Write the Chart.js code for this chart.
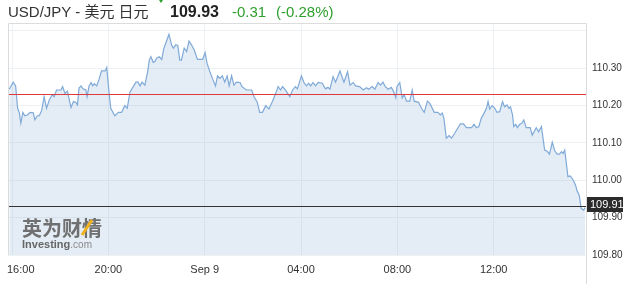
<!DOCTYPE html>
<html>
<head>
<meta charset="utf-8">
<script src="https://cdn.jsdelivr.net/npm/chart.js@4.4.1/dist/chart.umd.min.js"></script>
<style>
  html, body { margin: 0; padding: 0; background: #fff; }
  #wrap { position: relative; width: 629px; height: 284px; overflow: hidden; font-family: "Liberation Sans", Arial, "Noto Sans CJK SC", sans-serif; }
  #chart { position: absolute; left: 0; top: 0; }
  .hd { position: absolute; top: 2px; line-height: 20px; white-space: nowrap; }
  #title { left: 8px; font-size: 15px; color: #333; }
  #arrow { position: absolute; left: 157px; top: -3px; width: 0; height: 0;
           border-left: 4px solid transparent; border-right: 4px solid transparent; border-top: 6px solid #2ea02e; }
  #last { left: 170px; font-size: 16px; font-weight: bold; color: #222; }
  #chg { left: 232px; font-size: 15px; color: #2ea02e; }
  #pct { left: 276px; font-size: 15px; color: #2ea02e; }
</style>
</head>
<body>
<div id="wrap">
  <canvas id="chart" width="629" height="284"></canvas>
  <div class="hd" id="title">USD/JPY - 美元 日元</div>
  <div id="arrow"></div>
  <div class="hd" id="last">109.93</div>
  <div class="hd" id="chg">-0.31</div>
  <div class="hd" id="pct">(-0.28%)</div>
</div>
<script>
// minutes after 16:00 (Sep 8) and USD/JPY price
var minutes = [-7, 3, 9, 14, 18, 22, 27, 32, 38, 45, 53, 57, 63, 68, 74, 80, 86, 93, 100, 105,
  111, 122, 126, 132, 138, 147, 153, 159, 163, 167, 172, 177, 184, 187, 192, 197, 201, 205, 211, 217,
  223, 232, 236, 242, 246, 256, 265, 273, 281, 287, 294, 302, 309, 314, 319, 324, 331, 338, 342, 346,
  352, 356, 360, 367, 373, 378, 385, 391, 398, 402, 408, 413, 418, 422, 429, 435, 441, 447, 454, 462,
  475, 481, 486, 493, 500, 507, 512, 518, 524, 530, 536, 541, 547, 553, 559, 568, 573, 584, 597, 603,
  611, 617, 624, 632, 640, 649, 657, 663, 669, 674, 681, 692, 699, 706, 711, 721, 728, 734, 739, 744,
  750, 756, 763, 773, 781, 787, 792, 800, 806, 817, 827, 836, 842, 850, 856, 866, 875, 883, 889, 897,
  904, 912, 918, 924, 930, 937, 945, 951, 956, 959, 966, 972, 977, 983, 991, 997, 1002, 1013, 1020, 1027,
  1035, 1041, 1052, 1061, 1067, 1072, 1076, 1082, 1089, 1095, 1103, 1111, 1117, 1125, 1132, 1145, 1151, 1157, 1163, 1169,
  1178, 1182, 1186, 1190, 1196, 1203, 1208, 1215, 1222, 1227, 1233, 1238, 1242, 1247, 1250, 1255, 1259, 1265, 1270, 1275,
  1281, 1291, 1296, 1302, 1306, 1312, 1319, 1327, 1334, 1339, 1346, 1352, 1358, 1364, 1369, 1373, 1377, 1385, 1391, 1398,
  1404, 1408, 1413, 1418, 1424, 1428];
var prices = [110.244, 110.263, 110.253, 110.193, 110.182, 110.153, 110.182, 110.173, 110.175, 110.182, 110.181, 110.162, 110.173, 110.173, 110.188, 110.224, 110.193, 110.215, 110.229, 110.224,
  110.242, 110.242, 110.251, 110.233, 110.239, 110.195, 110.211, 110.209, 110.202, 110.247, 110.253, 110.245, 110.242, 110.224, 110.253, 110.262, 110.253, 110.259, 110.253, 110.271,
  110.293, 110.293, 110.302, 110.233, 110.193, 110.173, 110.182, 110.182, 110.200, 110.193, 110.237, 110.251, 110.263, 110.263, 110.253, 110.263, 110.255, 110.291, 110.322, 110.331,
  110.316, 110.318, 110.327, 110.331, 110.324, 110.352, 110.373, 110.391, 110.361, 110.354, 110.363, 110.361, 110.322, 110.322, 110.354, 110.345, 110.373, 110.363, 110.349, 110.324,
  110.324, 110.342, 110.313, 110.291, 110.271, 110.253, 110.280, 110.273, 110.280, 110.263, 110.280, 110.253, 110.280, 110.255, 110.263, 110.262, 110.251, 110.242, 110.242, 110.224,
  110.209, 110.182, 110.182, 110.200, 110.191, 110.212, 110.233, 110.251, 110.242, 110.251, 110.242, 110.224, 110.242, 110.251, 110.245, 110.280, 110.260, 110.253, 110.260, 110.253,
  110.262, 110.253, 110.262, 110.260, 110.245, 110.249, 110.244, 110.278, 110.263, 110.293, 110.263, 110.291, 110.255, 110.262, 110.253, 110.251, 110.242, 110.248, 110.244, 110.251,
  110.244, 110.262, 110.255, 110.263, 110.251, 110.244, 110.249, 110.237, 110.221, 110.251, 110.262, 110.221, 110.229, 110.212, 110.212, 110.242, 110.212, 110.209, 110.193, 110.182,
  110.212, 110.206, 110.182, 110.182, 110.175, 110.180, 110.166, 110.113, 110.120, 110.113, 110.126, 110.141, 110.151, 110.151, 110.141, 110.141, 110.150, 110.141, 110.144, 110.166,
  110.184, 110.193, 110.211, 110.191, 110.200, 110.193, 110.182, 110.184, 110.211, 110.197, 110.202, 110.193, 110.197, 110.175, 110.144, 110.150, 110.141, 110.150, 110.153, 110.162,
  110.141, 110.141, 110.121, 110.133, 110.141, 110.130, 110.144, 110.081, 110.077, 110.070, 110.102, 110.079, 110.070, 110.070, 110.077, 110.072, 110.081, 110.010, 110.012, 110.001,
  109.987, 109.971, 109.961, 109.925, 109.920, 109.927];

var xTicks = [0, 240, 480, 720, 960, 1200];
var xLabels = ['16:00', '20:00', 'Sep 9', '04:00', '08:00', '12:00'];
var yTicks = [109.8, 109.9, 110.0, 110.1, 110.2, 110.3, 110.4];
var yLabels = ['109.80', '109.90', '110.00', '110.10', '110.20', '110.30', ''];
var prevClose = 110.23;
var lastPrice = 109.93;
var lastLabel = '109.91';

var points = minutes.map(function (m, i) { return { x: m, y: prices[i] }; });

var overlay = {
  id: 'overlay',
  afterDatasetsDraw: function (chart) {
    var ctx = chart.ctx, a = chart.chartArea, y = chart.scales.y;
    ctx.save();
    // watermark
    ctx.fillStyle = '#707070';
    ctx.font = 'bold 20px "Noto Sans CJK SC"';
    ctx.textBaseline = 'alphabetic';
    ctx.fillText('英为财情', 22, 236);
    ctx.strokeStyle = '#f2b21e';
    ctx.lineWidth = 3;
    ctx.beginPath(); ctx.moveTo(82, 235); ctx.lineTo(92, 220); ctx.stroke();
    ctx.fillStyle = '#666';
    ctx.font = 'bold 11px "Liberation Sans", Arial';
    ctx.fillText('Investing', 22, 248);
    var w = ctx.measureText('Investing').width;
    ctx.fillStyle = '#8a8a8a';
    ctx.font = '10px "Liberation Sans", Arial';
    ctx.fillText('.com', 22 + w, 248);

    // previous close and last price lines
    ctx.lineWidth = 1;
    var yr = Math.round(y.getPixelForValue(prevClose)) + 0.5;
    ctx.strokeStyle = '#e0393b';
    ctx.beginPath(); ctx.moveTo(a.left, yr); ctx.lineTo(a.right, yr); ctx.stroke();
    var yb = Math.round(y.getPixelForValue(lastPrice)) + 0.5;
    ctx.strokeStyle = '#333';
    ctx.beginPath(); ctx.moveTo(a.left, yb); ctx.lineTo(a.right, yb); ctx.stroke();
    ctx.restore();
  },
  afterDraw: function (chart) {
    var ctx = chart.ctx, a = chart.chartArea, x = chart.scales.x, y = chart.scales.y;
    ctx.save();
    // frame
    ctx.strokeStyle = '#dcdcdc';
    ctx.lineWidth = 1;
    ctx.beginPath();
    ctx.moveTo(a.left + 0.5, a.bottom); ctx.lineTo(a.left + 0.5, a.top + 0.5);
    ctx.lineTo(a.right + 0.5, a.top + 0.5); ctx.lineTo(a.right + 0.5, chart.height);
    ctx.stroke();
    // x labels
    ctx.fillStyle = '#333';
    ctx.font = '11px "Liberation Sans", Arial';
    ctx.textBaseline = 'middle';
    xTicks.forEach(function (v, i) {
      var px = x.getPixelForValue(v);
      if (i === 0) { ctx.textAlign = 'left'; px = a.left - 1; } else { ctx.textAlign = 'center'; }
      ctx.fillText(xLabels[i], px, a.bottom + 15);
    });
    // last price tag
    var yb = Math.round(y.getPixelForValue(lastPrice));
    ctx.fillStyle = '#2b2b2b';
    ctx.fillRect(a.right + 1, yb - 9, 36, 15);
    ctx.fillStyle = '#fff';
    ctx.textAlign = 'left';
    ctx.fillText(lastLabel, a.right + 4, yb - 1.5);
    ctx.restore();
  }
};

new Chart(document.getElementById('chart'), {
  type: 'line',
  data: {
    datasets: [{
      data: points,
      borderColor: '#80aad8',
      borderWidth: 1.2,
      backgroundColor: 'rgba(120,165,205,0.2)',
      fill: 'start',
      pointRadius: 0,
      tension: 0
    }]
  },
  options: {
    responsive: false,
    animation: false,
    devicePixelRatio: 1,
    layout: { padding: { top: 23, left: 8, right: 0, bottom: 0 } },
    plugins: { legend: { display: false }, tooltip: { enabled: false } },
    scales: {
      x: {
        type: 'linear',
        min: -10,
        max: 1430,
        afterBuildTicks: function (s) { s.ticks = xTicks.map(function (v) { return { value: v }; }); },
        afterFit: function (s) { s.height = 29; },
        grid: { color: '#eef1f4', drawTicks: false },
        border: { display: false },
        ticks: { display: false }
      },
      y: {
        position: 'right',
        min: 109.8,
        max: 110.4214,
        afterBuildTicks: function (s) { s.ticks = yTicks.map(function (v) { return { value: v }; }); },
        afterFit: function (s) { s.width = 43; },
        grid: { color: '#eef1f4', drawTicks: false },
        border: { display: false },
        ticks: {
          padding: 6,
          color: '#333',
          font: { family: '"Liberation Sans", Arial', size: 10 },
          callback: function (v, i) { return yLabels[i]; }
        }
      }
    }
  },
  plugins: [overlay]
});
</script>
</body>
</html>
